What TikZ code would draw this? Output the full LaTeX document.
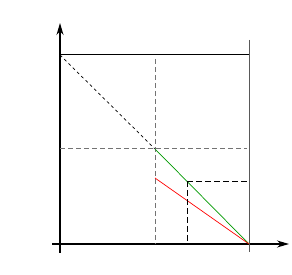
\documentclass[tikz,border=0pt]{standalone}
\usetikzlibrary{arrows.meta}
\begin{document}
\begin{tikzpicture}[x=1pt,y=-1pt,
  axis/.style={line width=1.2pt,-{Stealth[length=12pt,width=7pt]}},
  grayd/.style={gray!90!black,line width=1pt,dash pattern=on 5pt off 3pt},
  diagd/.style={black,line width=0.7pt,dash pattern=on 3pt off 3pt},
  blackd/.style={black,line width=0.8pt,dash pattern=on 6pt off 3pt}]
\useasboundingbox (0,0) rectangle (292,275);
\coordinate (xs) at (52,244);
\coordinate (xe) at (289,244);
\coordinate (ys) at (60,253);
\coordinate (ye) at (60,23);
\coordinate (tl) at (60,55);
\coordinate (tr) at (249,55);
\coordinate (vt) at (249,40);
\coordinate (vb) at (249,252);
\coordinate (m) at (155,149);
\coordinate (mt) at (155,59);
\coordinate (mb) at (155,244);
\coordinate (hl) at (60,149);
\coordinate (hr) at (247,149);
\coordinate (o) at (249,244);
\coordinate (r) at (155,178);
\coordinate (g) at (187,181);
\coordinate (gr) at (247,181);
\coordinate (gb) at (187,244);
\draw[axis] (xs) -- (xe);
\draw[axis] (ys) -- (ye);
\draw[line width=1pt] (tl) -- (tr);
\draw[gray!70!black,line width=1pt] (vt) -- (vb);
\draw[diagd] (tl) -- (m);
\draw[grayd] (mt) -- (mb);
\draw[grayd] (hl) -- (hr);
\draw[green!60!black,line width=0.7pt] (m) -- (o);
\draw[red,line width=0.7pt] (r) -- (o);
\draw[blackd] (g) -- (gr);
\draw[blackd] (g) -- (gb);
\end{tikzpicture}
\end{document}
